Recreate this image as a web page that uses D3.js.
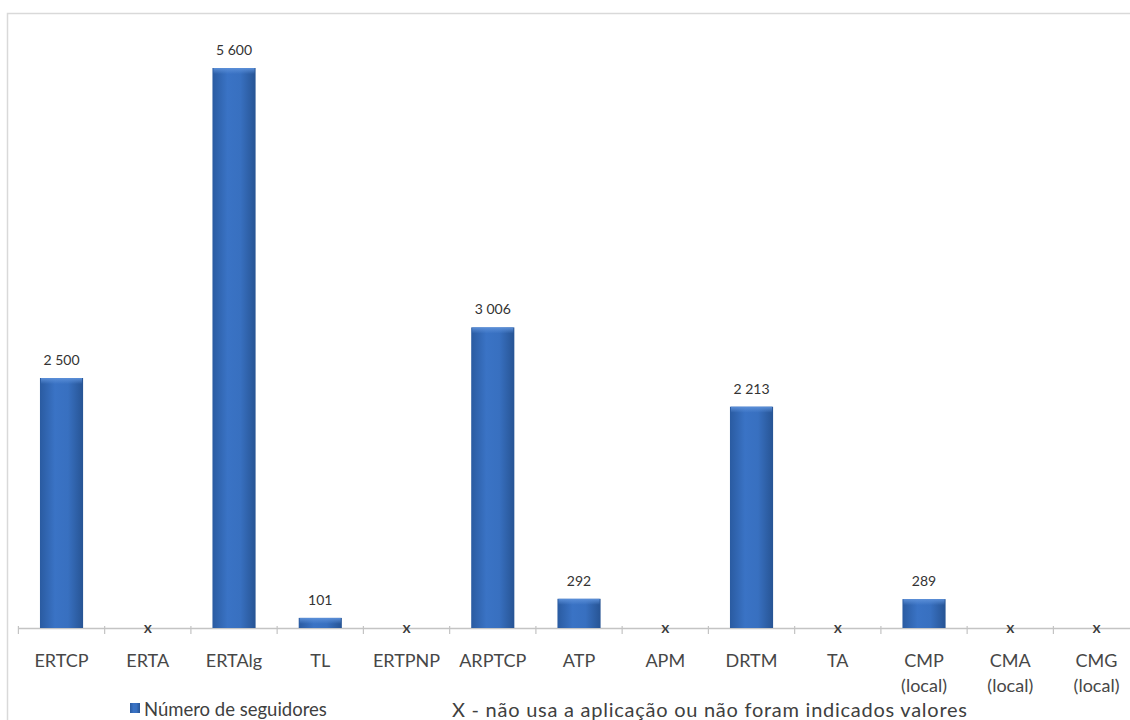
<!DOCTYPE html>
<html>
<head>
<meta charset="utf-8">
<script src="https://cdn.jsdelivr.net/npm/d3@7"></script>
<style>
  html, body { margin: 0; padding: 0; background: #ffffff; }
  svg { display: block; }
</style>
</head>
<body>
<svg id="chart" width="1130" height="720"></svg>
<script>
// Followers per entity; null marks "not used / no value given"
const categories = ["ERTCP", "ERTA", "ERTAlg", "TL", "ERTPNP", "ARPTCP", "ATP", "APM", "DRTM", "TA", "CMP (local)", "CMA (local)", "CMG (local)"];
const followers  = [2500, null, 5600, 101, null, 3006, 292, null, 2213, null, 289, null, null];
const valueLabels = ["2 500", "", "5 600", "101", "", "3 006", "292", "", "2 213", "", "289", "", ""];
const legendSeries = "Número de seguidores";
const legendNote = "X - não usa a aplicação ou não foram indicados valores";

const svg = d3.select("#chart");
const font = "Lato, 'Open Sans', sans-serif";

// Chart area frame
svg.append("rect")
  .attr("x", 7.5).attr("y", 13.5)
  .attr("width", 1140).attr("height", 720)
  .attr("fill", "#ffffff")
  .attr("stroke", "#d9d9d9").attr("stroke-width", 1.5);

const x = d3.scaleBand()
  .domain(categories)
  .range([18.4, 18.4 + 86.25 * categories.length])
  .paddingInner(0.5).paddingOuter(0.25);

const y = d3.scaleLinear().domain([0, 6000]).range([628, 28]);

// Bar shading
const defs = svg.append("defs");
const grad = defs.append("linearGradient").attr("id", "barFill")
  .attr("x1", "0%").attr("x2", "100%").attr("y1", "0%").attr("y2", "0%");
grad.append("stop").attr("offset", "0%").attr("stop-color", "#2a5ba1");
grad.append("stop").attr("offset", "35%").attr("stop-color", "#3a73c5");
grad.append("stop").attr("offset", "65%").attr("stop-color", "#3870c0");
grad.append("stop").attr("offset", "100%").attr("stop-color", "#275494");

const topGrad = defs.append("linearGradient").attr("id", "barTop")
  .attr("x1", "0%").attr("x2", "0%").attr("y1", "0%").attr("y2", "100%");
topGrad.append("stop").attr("offset", "0%").attr("stop-color", "#5b8fd8");
topGrad.append("stop").attr("offset", "100%").attr("stop-color", "#5b8fd8").attr("stop-opacity", 0);

const data = categories.map((c, i) => ({ cat: c, v: followers[i], label: valueLabels[i] }));
const withValue = data.filter(d => d.v !== null);
const noValue = data.filter(d => d.v === null);

// Axis line and tick marks between categories
const axisG = svg.append("g").attr("transform", `translate(0,${y(0)})`);
axisG.append("line")
  .attr("x1", x.range()[0]).attr("x2", x.range()[1])
  .attr("y1", 0.5).attr("y2", 0.5)
  .attr("stroke", "#c4c4c4").attr("stroke-width", 1.5);
const tickPos = d3.range(categories.length + 1).map(i => x.range()[0] + x.step() * i);
axisG.selectAll("line.tick").data(tickPos).join("line")
  .attr("class", "tick")
  .attr("x1", d => d).attr("x2", d => d)
  .attr("y1", -2).attr("y2", 6)
  .attr("stroke", "#c4c4c4").attr("stroke-width", 1.2);

// Bars
const bars = svg.append("g");
bars.selectAll("rect.bar").data(withValue).join("rect")
  .attr("class", "bar")
  .attr("x", d => x(d.cat)).attr("width", x.bandwidth())
  .attr("y", d => y(d.v)).attr("height", d => y(0) - y(d.v))
  .attr("fill", "url(#barFill)");
bars.selectAll("rect.hl").data(withValue).join("rect")
  .attr("class", "hl")
  .attr("x", d => x(d.cat) + 1).attr("width", x.bandwidth() - 2)
  .attr("y", d => y(d.v)).attr("height", d => Math.min(6, y(0) - y(d.v)))
  .attr("fill", "url(#barTop)");

// Value labels
svg.append("g").selectAll("text").data(withValue).join("text")
  .attr("x", d => x(d.cat) + x.bandwidth() / 2)
  .attr("y", d => y(d.v) - 13)
  .attr("text-anchor", "middle")
  .attr("font-family", font).attr("font-size", 14)
  .attr("fill", "#333333")
  .text(d => d.label);

// "x" markers on categories without a value
svg.append("g").selectAll("text").data(noValue).join("text")
  .attr("x", d => x(d.cat) + x.bandwidth() / 2)
  .attr("y", y(0) + 5)
  .attr("text-anchor", "middle")
  .attr("font-family", font).attr("font-size", 16).attr("font-weight", 600)
  .attr("fill", "#3a3a3a")
  .text("x");

// Category labels (wrapped on the space before "(local)")
const catG = svg.append("g");
data.forEach(d => {
  const parts = d.cat.split(" ");
  const t = catG.append("text")
    .attr("text-anchor", "middle")
    .attr("font-family", font).attr("font-size", 18)
    .attr("fill", "#474747");
  parts.forEach((p, i) => {
    t.append("tspan")
      .attr("x", x(d.cat) + x.bandwidth() / 2)
      .attr("y", 667 + i * 25)
      .text(p);
  });
});

// Legend
const leg = svg.append("g");
leg.append("rect").attr("x", 130).attr("y", 703).attr("width", 10).attr("height", 10)
  .attr("fill", "url(#barFill)");
leg.append("text").attr("x", 144).attr("y", 716)
  .attr("font-family", font).attr("font-size", 18.5).attr("fill", "#404040")
  .text(legendSeries);
leg.append("text").attr("x", 452).attr("y", 717)
  .attr("font-family", font).attr("font-size", 20).attr("fill", "#404040")
  .attr("textLength", 515).attr("lengthAdjust", "spacing")
  .text(legendNote);
</script>
</body>
</html>
